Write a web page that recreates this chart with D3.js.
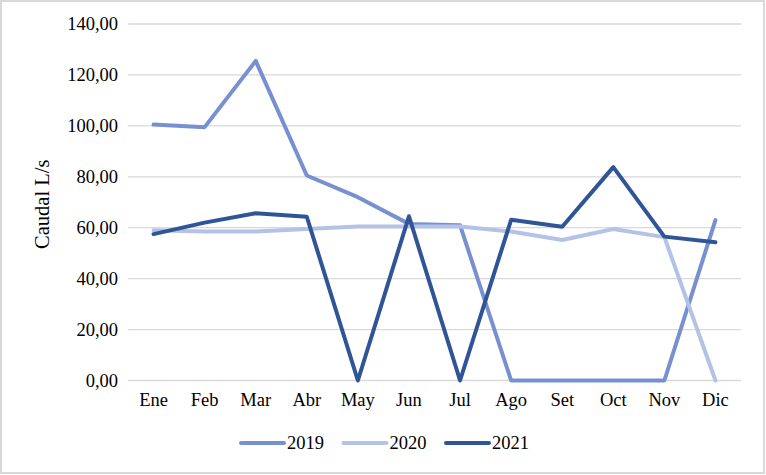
<!DOCTYPE html>
<html>
<head>
<meta charset="utf-8">
<script src="https://cdn.jsdelivr.net/npm/d3@7"></script>
<style>
  body { margin: 0; background: #fff; }
</style>
</head>
<body>
<div id="chart-area"></div>
<script>
const months = ["Ene", "Feb", "Mar", "Abr", "May", "Jun", "Jul", "Ago", "Set", "Oct", "Nov", "Dic"];
const years = ["2019", "2020", "2021"];
const v2019 = [100.5, 99.5, 125.5, 80.5, 72, 61.5, 61, 0, 0, 0, 0, 63];
const v2020 = [59, 58.5, 58.5, 59.5, 60.5, 60.5, 60.5, 58.5, 55.2, 59.5, 56.3, 0];
const v2021 = [57.5, 62, 65.7, 64.3, 0, 64.5, 0, 63.1, 60.4, 83.8, 56.5, 54.3];
const yTicks = [0, 20, 40, 60, 80, 100, 120, 140];

const series = [
	{ name: years[0], values: v2019, color: "#7790cf" },
	{ name: years[1], values: v2020, color: "#b4c2e5" },
	{ name: years[2], values: v2021, color: "#2f5597" }
];

const FONT = "'Liberation Serif', 'DejaVu Serif', 'Times New Roman', serif";
const W = 766, H = 475;
const margin = { left: 128, right: 25, top: 24, bottom: 94.5 };
const width = W - margin.left - margin.right;
const height = H - margin.top - margin.bottom;

const svg = d3.select("#chart-area").append("svg")
	.attr("width", W)
	.attr("height", H)
	.attr("font-family", FONT);

// outer frame
svg.append("rect")
	.attr("x", 1).attr("y", 1)
	.attr("width", W - 3).attr("height", H - 3)
	.attr("fill", "#fff")
	.attr("stroke", "#d9d9d9")
	.attr("stroke-width", 2);

const g = svg.append("g")
	.attr("transform", `translate(${margin.left},${margin.top})`);

const x = d3.scaleBand()
	.domain(months)
	.range([0, width]);

const y = d3.scaleLinear()
	.domain([0, 140])
	.range([height, 0]);

const fmt = d => d3.format(".2f")(d).replace(".", ",");

// gridlines
g.append("g")
	.attr("class", "grid")
	.selectAll("line")
	.data(yTicks)
	.enter().append("line")
	.attr("x1", 0).attr("x2", width)
	.attr("y1", d => y(d)).attr("y2", d => y(d))
	.attr("stroke", "#d9d9d9")
	.attr("stroke-width", 1.3);

// y axis
const yAxis = g.append("g")
	.attr("class", "y-axis")
	.call(d3.axisLeft(y).tickValues(yTicks).tickFormat(fmt).tickSize(0).tickPadding(10));
yAxis.select(".domain").remove();
yAxis.attr("font-family", null).attr("font-size", null);
yAxis.selectAll("text")
	.style("font-family", FONT)
	.style("font-size", "18.5px")
	.attr("fill", "#000");

// x axis
const xAxis = g.append("g")
	.attr("class", "x-axis")
	.attr("transform", `translate(0,${height})`)
	.call(d3.axisBottom(x).tickSize(0).tickPadding(12));
xAxis.select(".domain").remove();
xAxis.attr("font-family", null).attr("font-size", null);
xAxis.selectAll("text")
	.style("font-family", FONT)
	.style("font-size", "18.5px")
	.attr("fill", "#000");

// lines
const line = d3.line()
	.x((d, i) => x(months[i]) + x.bandwidth() / 2)
	.y(d => y(d));

g.selectAll(".series")
	.data(series)
	.enter().append("path")
	.attr("class", "series")
	.attr("d", d => line(d.values))
	.attr("fill", "none")
	.attr("stroke", d => d.color)
	.attr("stroke-width", 4)
	.attr("stroke-linejoin", "round")
	.attr("stroke-linecap", "round");

// axis title
g.append("text")
	.attr("transform", "rotate(-90)")
	.attr("x", -(y(70) + 2))
	.attr("y", -79)
	.attr("text-anchor", "middle")
	.style("font-family", FONT)
	.style("font-size", "20.5px")
	.text("Caudal L/s");

// legend
const legend = svg.append("g")
	.attr("transform", "translate(240,443)");

const items = legend.selectAll(".item")
	.data(series)
	.enter().append("g")
	.attr("class", "item")
	.attr("transform", (d, i) => `translate(${i * 102.5},0)`);

items.append("line")
	.attr("x1", 1).attr("x2", 44)
	.attr("y1", 0).attr("y2", 0)
	.attr("stroke", d => d.color)
	.attr("stroke-width", 4)
	.attr("stroke-linecap", "round");

items.append("text")
	.attr("x", 47)
	.attr("y", 6)
	.style("font-family", FONT)
	.style("font-size", "18.5px")
	.text(d => d.name);
</script>
</body>
</html>
